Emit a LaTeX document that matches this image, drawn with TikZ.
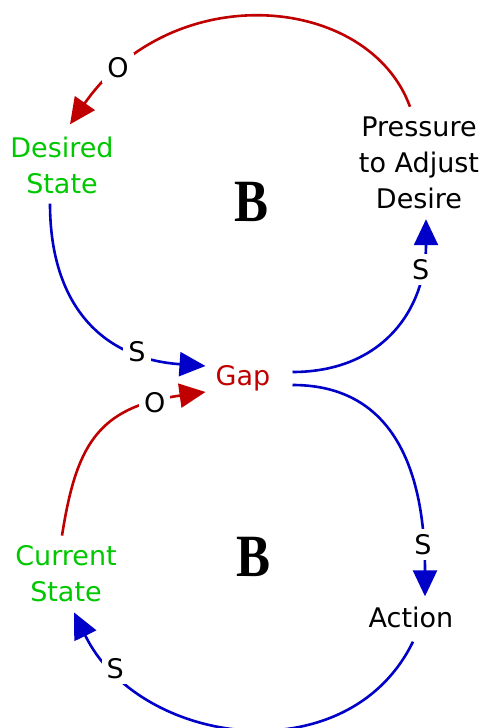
\documentclass[tikz,border=0pt]{standalone}
\usepackage{fontspec}
\setmainfont{DejaVu Sans}
\newfontfamily\loopfont{Liberation Serif}
\usetikzlibrary{arrows.meta}
\definecolor{linkred}{RGB}{192,0,0}
\definecolor{linkblue}{RGB}{0,0,200}
\definecolor{stockgreen}{RGB}{0,200,0}

\begin{document}
\begin{tikzpicture}[x=1pt, y=1pt, every node/.style={font=\fontsize{27}{36}\selectfont, inner sep=10pt, align=center}, link/.style={line width=2.6pt, -{Triangle[length=26pt,width=24pt]}}, pol/.style={fill=white, text=black, inner sep=5pt, pos=#1}, loopname/.style={font=\loopfont\bfseries\fontsize{60}{60}\selectfont, inner sep=0pt, xscale=0.85}]
    \path[use as bounding box, fill=white] (0,0) rectangle (485,728);
    % variables
    \node[text=stockgreen] (desired) at (62,563) {Desired\\State};
    \node (pressure) at (419,565) {Pressure\\to Adjust\\Desire};
    \node[text=linkred] (gap) at (243,350) {Gap};
    \node[text=stockgreen] (current) at (66,154) {Current\\State};
    \node (action) at (411,111) {Action};
    % loop names
    \node[loopname] (btop) at (252,526) {B};
    \node[loopname] (bbottom) at (254,171) {B};
    % upper loop
    \draw[link, linkred] ([xshift=-9pt]pressure.north) to[out=110, in=55, out distance=120pt, in distance=180pt] node[pol=0.86, yshift=4pt] {O} ([xshift=8pt,yshift=2pt]desired.north);
    \draw[link, linkblue] ([xshift=-12pt]desired.south) to[out=-90, in=176, out distance=100pt, in distance=105pt] node[pol=0.75] {S} ([yshift=12pt]gap.west);
    \draw[link, linkblue] ([xshift=12pt,yshift=6pt]gap.east) to[out=0, in=-90, out distance=90pt, in distance=90pt] node[pol=0.8] {S} ([xshift=7pt]pressure.south);
    % lower loop
    \draw[link, linkblue] ([xshift=12pt,yshift=-7pt]gap.east) to[out=0, in=90, out distance=110pt, in distance=110pt] node[pol=0.84] {S} ([xshift=14pt]action.north);
    \draw[link, linkblue] ([xshift=2pt,yshift=-4pt]action.south) to[out=244, in=-64, out distance=149pt, in distance=149pt] node[pol=0.84] {S} ([xshift=8pt]current.south);
    \draw[link, linkred] ([xshift=-4pt]current.north) to[out=81, in=188, out distance=90pt, in distance=110pt] node[pol=0.82] {O} ([yshift=-14pt]gap.west);
\end{tikzpicture}
\end{document}
